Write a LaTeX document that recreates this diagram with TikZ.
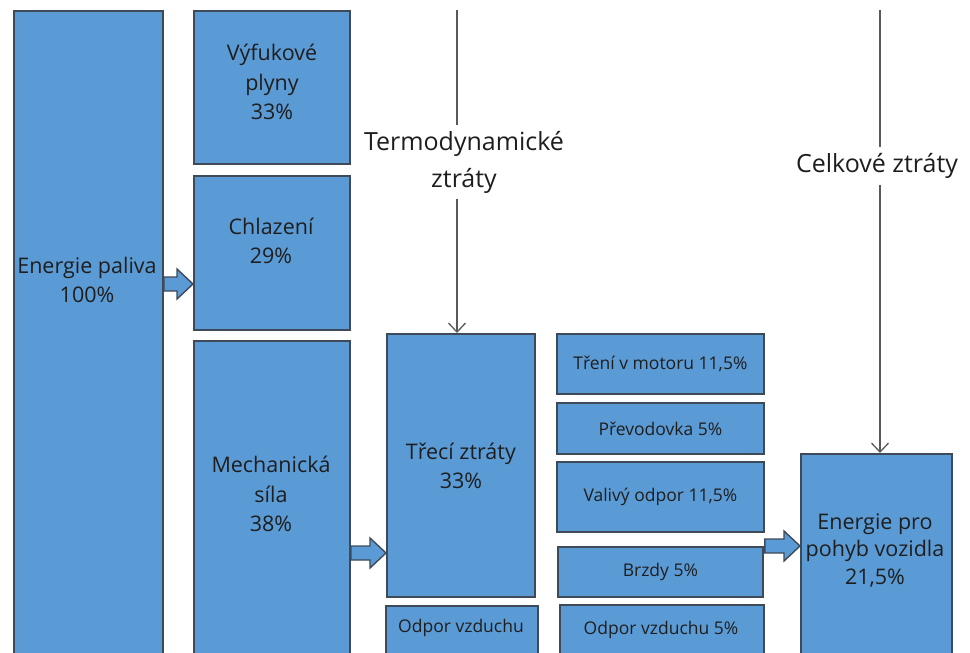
\documentclass[tikz,border=0pt]{standalone}
\usepackage{fontspec}
\setmainfont{Open Sans}
\usepackage{tikz}
\usetikzlibrary{calc,arrows.meta,positioning}

\definecolor{boxblue}{HTML}{5B9BD5}
\definecolor{boxline}{HTML}{3E4A57}
\definecolor{linegray}{HTML}{595959}
\definecolor{txtcol}{HTML}{1E1E1E}

% tlusta blokova sipka mezi dvema body
\newcommand{\blokSipka}[2]{%
  \draw[sipka] let \p1=#1, \p2=#2 in
    (\x1,\y1+7pt) -- (\x2-16pt,\y1+7pt) -- (\x2-16pt,\y1+15pt) -- (\x2,\y1)
    -- (\x2-16pt,\y1-15pt) -- (\x2-16pt,\y1-7pt) -- (\x1,\y1-7pt) -- cycle;}

\begin{document}
\begin{tikzpicture}[x=1pt, y=-1pt,
    box/.style={draw=boxline, fill=boxblue, line width=1.8pt, inner sep=2pt,
                anchor=north west, align=center, text=txtcol,
                font=\fontsize{21.5}{29}\selectfont},
    malybox/.style={box, font=\fontsize{17.5}{21}\selectfont},
    txt/.style={align=center, text=txtcol, font=\fontsize{21.5}{29.5}\selectfont},
    malytxt/.style={txt, font=\fontsize{17.5}{21}\selectfont},
    popis/.style={align=center, text=txtcol, inner sep=6pt,
                  font=\fontsize{25}{37}\selectfont},
    sipka/.style={draw=boxline, fill=boxblue, line width=1.4pt, line join=miter},
    tenka/.style={draw=linegray, line width=1.3pt},
    hrot/.style={tenka, -{Straight Barb[length=9pt,width=17pt]}}]

    \useasboundingbox (0,0) rectangle (970,653);
    \clip (0,0) rectangle (970,653);

    % levy sloupec
    \node[box, minimum width=149, minimum height=700] (paliva) at (13,10) {};
    \node[txt] (palivaT) at (87,280) {Energie paliva\\100\%};

    % rozdeleni energie paliva
    \node[box, minimum width=156, minimum height=153] (vyfuk) at (193,10) {};
    \node[txt] (vyfukT) at (272,82) {Výfukové\\plyny\\33\%};
    \node[box, minimum width=156, minimum height=154] (chlaz) at (193,175) {};
    \node[txt] (chlazT) at (271,241) {Chlazení\\29\%};
    \node[box, minimum width=156, minimum height=400] (mech) at (193,340) {};
    \node[txt] (mechT) at (271,494) {Mechanická\\síla\\38\%};

    % mechanicke ztraty
    \node[box, minimum width=148, minimum height=263] (trec) at (386,333) {Třecí ztráty\\33\%};
    \node[malybox, minimum width=152, minimum height=100] (odpor) at (385,605) {};
    \node[malytxt] (odporT) at (461,628) {Odpor vzduchu};

    \node[malybox, minimum width=207, minimum height=60] (treni) at (556,333) {Tření v motoru 11,5\%};
    \node[malybox, minimum width=207, minimum height=51] (prevod) at (556,402) {Převodovka 5\%};
    \node[malybox, minimum width=207, minimum height=70] (valiv) at (556,461) {Valivý odpor 11,5\%};
    \node[malybox, minimum width=205, minimum height=50] (brzdy) at (557,546) {Brzdy 5\%};
    \node[malybox, minimum width=204, minimum height=100] (odporB) at (559,604) {};
    \node[malytxt] (odporBT) at (661,630) {Odpor vzduchu 5\%};

    % vysledek
    \node[box, minimum width=151, minimum height=250] (pohyb) at (800,453) {};
    \node[txt, font=\fontsize{21.5}{27.5}\selectfont] (pohybT) at (875,550) {Energie pro\\pohyb vozidla\\21,5\%};

    % blokove sipky
    \blokSipka{(paliva.east |- 0,284)}{(chlaz.west |- 0,284)}
    \blokSipka{(mech.east |- 0,553)}{(trec.west |- 0,553)}
    \blokSipka{(valiv.east |- 0,546)}{(pohyb.west |- 0,546)}

    % ztraty shora
    \coordinate (t1) at (457,10);
    \coordinate (c1) at (880,10);
    \node[popis] (termo) at (464,162) {Termodynamické\\ztráty};
    \node[popis] (celk) at (877,166) {Celkové ztráty};

    \draw[tenka] (t1) -- (t1 |- termo.north);
    \draw[hrot] (t1 |- termo.south) -- (t1 |- trec.north);
    \draw[tenka] (c1) -- (c1 |- celk.north);
    \draw[hrot] (c1 |- celk.south) -- (c1 |- pohyb.north);
\end{tikzpicture}
\end{document}
